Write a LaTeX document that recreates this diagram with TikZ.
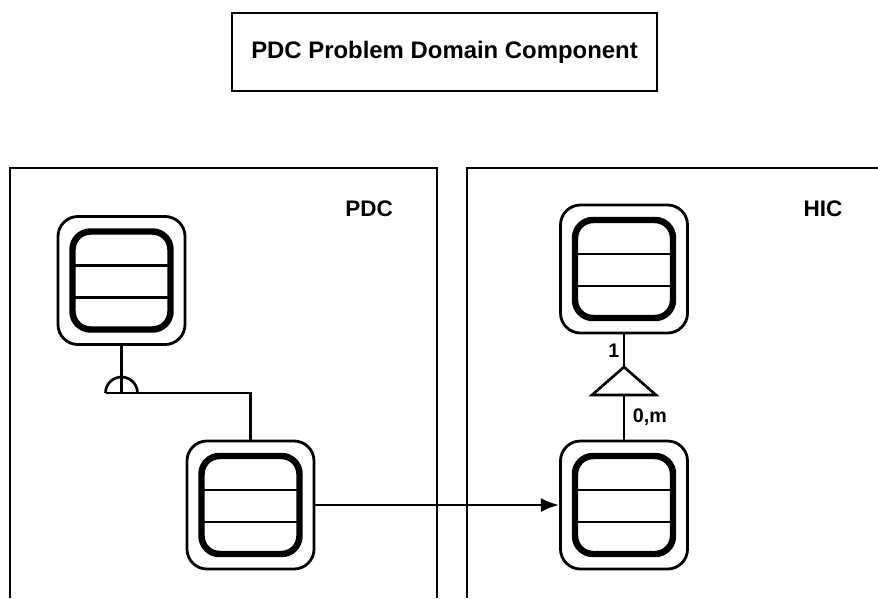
\documentclass[tikz,border=0pt]{standalone}
\usepackage{fontspec}
\setmainfont{Liberation Sans}
\usetikzlibrary{arrows.meta,calc}

\begin{document}
\begin{tikzpicture}[
    x=0.025cm, y=-0.025cm,
    >={Latex[length=13pt,width=10pt]},
    every node/.style={font=\bfseries\fontsize{16}{19}\selectfont},
    frame/.style={line width=1.8pt},
    link/.style={line width=1.9pt},
    classbox/.style={draw, line width=2pt, rounded corners=0.5cm,
        minimum width=3.175cm, minimum height=3.2cm, inner sep=0pt},
    classinner/.style={line width=4.6pt, rounded corners=0.45cm},
    slot/.style={line width=1.9pt}
]
\useasboundingbox (0,0) rectangle (878,598);

% ============================================================
% Titel
% ============================================================
\node[draw, frame, minimum width=10.625cm, minimum height=1.95cm,
      font=\bfseries\fontsize{17}{20}\selectfont]
    (title) at (444.5,52) {PDC Problem Domain Component};

% ============================================================
% Bereiche PDC / HIC (unten offen)
% ============================================================
\draw[frame] (10,598) |- (437,168) -- (437,598);
\draw[frame] (467,598) |- (878,168);

\node (pdc) at (369,209) {PDC};
\node (hic) at (823,209) {HIC};

% ============================================================
% Klassen (aussen Rahmen, innen drei Fächer)
% ============================================================
\node[classbox] (c1) at (121.5,280.5) {};
\node[classbox] (c2) at (250.5,505) {};
\node[classbox] (c3) at (624,505) {};
\node[classbox] (c4) at (624,269) {};

\foreach \n in {c1,c2,c3,c4} {
    \draw[classinner] ($(\n)+(-49,-49)$) rectangle ($(\n)+(49,49)$);
    \draw[slot] ($(\n)+(-49,-15)$) -- ($(\n)+(49,-15)$);
    \draw[slot] ($(\n)+(-49,17)$) -- ($(\n)+(49,17)$);
}

% ============================================================
% Ganzes-Teil (Halbkreis)
% ============================================================
\coordinate (wp) at (121.5,393);
\coordinate (wpL) at (105.5,393);

\draw[link] (c1.south) -- (wp);
\draw[link] (wpL) arc[start angle=180, end angle=360, radius=16];
\draw[link] (wpL) -| (c2.north);

% ============================================================
% Nachricht PDC -> HIC
% ============================================================
\draw[link,->] (c2.east) -- (c3.west);

% ============================================================
% Generalisierung (Dreieck)
% ============================================================
\coordinate (tip) at (624,367);
\coordinate (base) at (624,395);

\draw[link] (c4.south) -- (tip)
    node[midway, left=-1pt, font=\bfseries\fontsize{14}{16}\selectfont] {1};
\draw[link] (tip) -- ($(base)+(-32,0)$) -- ($(base)+(32,0)$) -- cycle;
\draw[link] (base) -- (c3.north)
    node[midway, right=2pt, font=\bfseries\fontsize{14}{16}\selectfont] {0,m};

\end{tikzpicture}
\end{document}
